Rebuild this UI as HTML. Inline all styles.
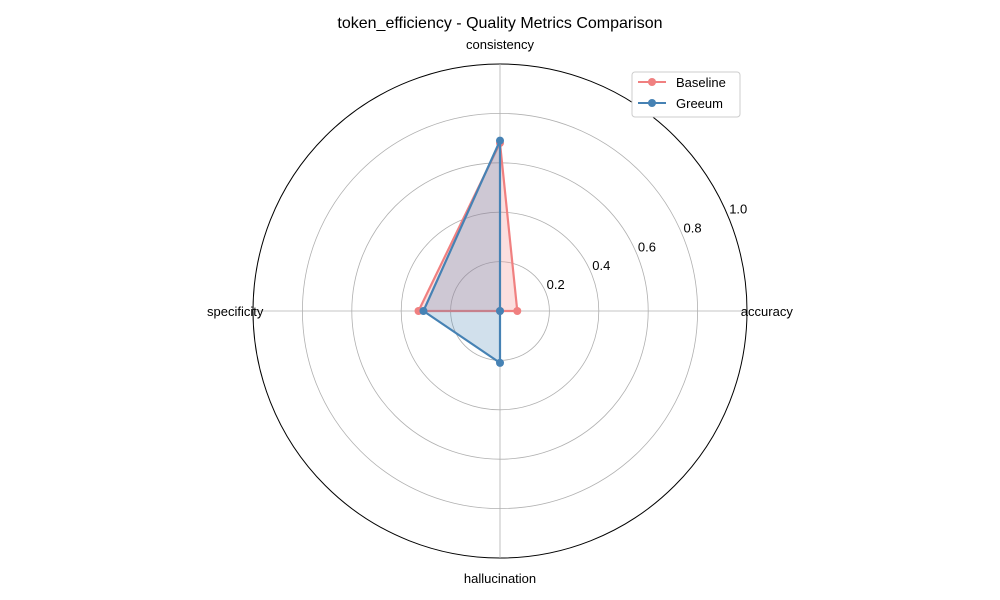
<!DOCTYPE html>
<html><head><meta charset="utf-8"><style>body{margin:0;background:#fff}svg{display:block;font-family:"Liberation Sans","DejaVu Sans",sans-serif}</style></head>
<body>
<svg id="chart" width="1000" height="600">
<rect width="1000" height="600" fill="#fff"/>
<text x="500" y="28" text-anchor="middle" font-size="16">token_efficiency - Quality Metrics Comparison</text>
<g id="grid"></g><g id="series"></g><g id="labels"></g>
<g>
<rect x="632" y="72" width="108" height="45" rx="3" fill="#fff" stroke="#ccc"/>
<g><line x1="638" y1="82" x2="666" y2="82" stroke="#f08080" stroke-width="2"/><circle cx="652" cy="82" r="4" fill="#f08080"/><text x="676" y="87" font-size="13">Baseline</text></g>
<g><line x1="638" y1="103" x2="666" y2="103" stroke="#4682b4" stroke-width="2"/><circle cx="652" cy="103" r="4" fill="#4682b4"/><text x="676" y="108" font-size="13">Greeum</text></g>
</g>
</svg>
<script>
const categories=["accuracy","consistency","specificity","hallucination"];
const baseline=[0.07,0.68,0.33,0.0];
const greeum=[0.0,0.69,0.31,0.21];
const ticks=[0.2,0.4,0.6,0.8,1.0];
const tickLabels=["0.2","0.4","0.6","0.8","1.0"];
const NS="http://www.w3.org/2000/svg";
const cx=500,cy=311,R=247;
function ang(i){return i*2*Math.PI/categories.length;}
function pt(i,v){return [cx+R*v*Math.cos(ang(i)),cy-R*v*Math.sin(ang(i))];}
function mk(t,a,p){const e=document.createElementNS(NS,t);for(const k in a)e.setAttribute(k,a[k]);p.appendChild(e);return e;}
const grid=document.getElementById('grid'),ser=document.getElementById('series'),lab=document.getElementById('labels');
ticks.forEach((t,k)=>{
 const c=mk('circle',{cx:cx,cy:cy,r:R*t,fill:'none',stroke:t===1?'#000':'#b0b0b0','stroke-width':t===1?1:0.8},grid);
 
 
 const a=22.5*Math.PI/180;
 const tx=mk('text',{x:cx+R*t*Math.cos(a)+1,y:cy-R*t*Math.sin(a)-3,'font-size':13},lab);
 tx.textContent=tickLabels[k];
 
 
});
categories.forEach((c,i)=>{
 const p=pt(i,1);
 const l=mk('line',{x1:cx,y1:cy,x2:p[0],y2:p[1],stroke:'#b0b0b0','stroke-width':0.8},grid);
 
 
 const q=pt(i,1.06);
 let dy=5;
 if(i===1)dy=0; if(i===3)dy=10;
 const off=(i===0)?5:(i===2?-3:0);
 const tx=mk('text',{x:q[0]+off,y:q[1]+dy,'text-anchor':'middle','font-size':13},lab);
 tx.textContent=c;
 
 
});
function draw(vals,color,name){
 const pts=vals.map((v,i)=>pt(i,v));
 const d=pts.map(p=>p.join(',')).join(' ');
 const f=mk('polygon',{points:d,fill:color,'fill-opacity':0.25,stroke:color,'stroke-width':2.2,'stroke-linejoin':'round'},ser);
 
 
 pts.forEach(p=>{const c=mk('circle',{cx:p[0],cy:p[1],r:4,fill:color},ser);
 
 });
}
draw(baseline,'#f08080','baseline');
draw(greeum,'#4682b4','greeum');
</script>
</body></html>
